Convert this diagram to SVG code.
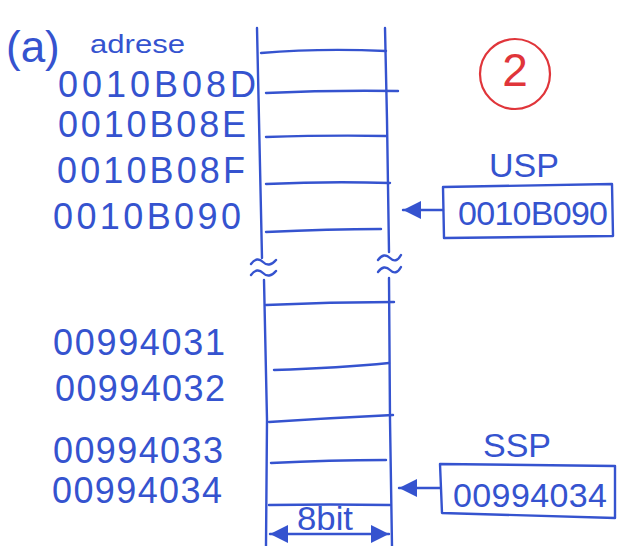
<svg xmlns="http://www.w3.org/2000/svg" width="623" height="546" viewBox="0 0 623 546">
  <defs>
    <style>
      .ink { stroke: #3553cf; stroke-width: 2.4; fill: none; stroke-linecap: round; stroke-linejoin: round; }
      .txt { fill: #3553cf; font-family: "Liberation Sans", "DejaVu Sans", sans-serif; }
      .addr { font-size: 36px; }
      .reg { font-size: 34px; }
      .red { stroke: #e0353a; stroke-width: 2.2; fill: none; }
    </style>
    <!-- filled arrowhead, tip at the end of the line -->
    <marker id="tip" viewBox="0 0 10 10" refX="10" refY="5" markerWidth="18" markerHeight="18" orient="auto-start-reverse" markerUnits="userSpaceOnUse">
      <path d="M0,0 L10,5 L0,10 Z" fill="#3553cf"/>
    </marker>
  </defs>

  <rect width="623" height="546" fill="#ffffff"/>

  <!-- heading -->
  <g id="heading">
    <text class="txt" x="6" y="62" font-size="44">(a)</text>
    <text class="txt" x="90" y="53" font-size="26" textLength="95" lengthAdjust="spacingAndGlyphs">adrese</text>
  </g>

  <!-- page number -->
  <g id="page-mark">
    <ellipse class="red" cx="515" cy="74" rx="35" ry="35"/>
    <text x="515" y="86" text-anchor="middle" font-family="Liberation Sans, sans-serif" font-size="46" fill="#e0353a">2</text>
  </g>

  <!-- memory column, upper part -->
  <g id="memory-upper">
    <path class="ink" d="M257,28 L259,120 L262,258"/>
    <path class="ink" d="M385,28 L387,120 L389,252"/>
    <path class="ink" d="M261,53 Q320,48 386,51"/>
    <path class="ink" d="M266,93 Q330,90 398,91"/>
    <path class="ink" d="M266,137 Q330,135 386,136"/>
    <path class="ink" d="M266,184 Q330,181 390,183"/>
    <path class="ink" d="M266,232 Q330,229 381,229"/>
  </g>

  <!-- break marks -->
  <g id="break">
    <path class="ink" d="M251,264 Q257,256 263,262 T276,260"/>
    <path class="ink" d="M251,275 Q257,267 263,273 T276,271"/>
    <path class="ink" d="M378,260 Q384,252 390,258 T401,255"/>
    <path class="ink" d="M378,272 Q384,264 390,270 T401,267"/>
  </g>

  <!-- memory column, lower part -->
  <g id="memory-lower">
    <path class="ink" d="M264,280 L267,420 L266,546"/>
    <path class="ink" d="M389,278 L390,420 L392,546"/>
    <path class="ink" d="M266,305 Q330,302 394,302"/>
    <path class="ink" d="M274,370 Q340,368 389,363"/>
    <path class="ink" d="M269,422 Q330,418 393,415"/>
    <path class="ink" d="M271,463 Q330,460 386,460"/>
    <path class="ink" d="M269,505 Q330,504 390,505"/>
  </g>

  <!-- addresses -->
  <g id="addresses">
    <text class="txt addr" x="58" y="97" textLength="198" lengthAdjust="spacing">0010B08D</text>
    <text class="txt addr" x="58" y="137" textLength="188" lengthAdjust="spacing">0010B08E</text>
    <text class="txt addr" x="57" y="183" textLength="188" lengthAdjust="spacing">0010B08F</text>
    <text class="txt addr" x="53" y="229" textLength="188" lengthAdjust="spacing">0010B090</text>
    <text class="txt addr" x="53" y="355" textLength="172" lengthAdjust="spacing">00994031</text>
    <text class="txt addr" x="55" y="401" textLength="170" lengthAdjust="spacing">00994032</text>
    <text class="txt addr" x="53" y="463" textLength="170" lengthAdjust="spacing">00994033</text>
    <text class="txt addr" x="52" y="503" textLength="170" lengthAdjust="spacing">00994034</text>
  </g>

  <!-- user stack pointer -->
  <g id="usp">
    <text class="txt" x="524" y="177" font-size="34" text-anchor="middle">USP</text>
    <path class="ink" d="M443,187 L612,184 L613,236 L444,238 Z"/>
    <text class="txt reg" x="458" y="225" textLength="150" lengthAdjust="spacing">0010B090</text>
  </g>

  <!-- supervisor stack pointer -->
  <g id="ssp">
    <text class="txt" x="517" y="457" font-size="34" text-anchor="middle">SSP</text>
    <path class="ink" d="M440,464 L615,466 L615,518 L442,513 Z"/>
    <text class="txt reg" x="453" y="507" textLength="154" lengthAdjust="spacing">00994034</text>
  </g>

  <!-- pointer arrows and width marker -->
  <g id="connectors">
    <path class="ink" d="M443,210 L403,210" marker-end="url(#tip)"/>
    <path class="ink" d="M440,488 L399,488" marker-end="url(#tip)"/>
    <path class="ink" d="M270,534 L389,534" marker-start="url(#tip)" marker-end="url(#tip)"/>
  </g>

  <g id="width-label">
    <text class="txt" x="297" y="530" font-size="34" textLength="56" lengthAdjust="spacingAndGlyphs">8bit</text>
  </g>
</svg>
